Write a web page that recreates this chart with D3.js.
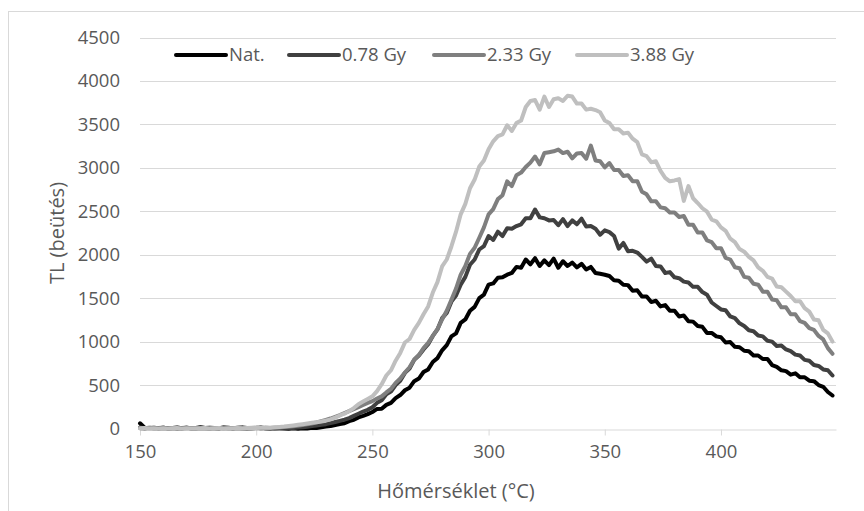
<!DOCTYPE html>
<html>
<head>
<meta charset="utf-8">
<script src="https://cdn.jsdelivr.net/npm/d3@7"></script>
<style>
  body { margin: 0; background: #fff; }
  text { font-family: "Open Sans", sans-serif; fill: #595959; }
</style>
</head>
<body>
<div id="chart"></div>
<script>
// temperatures (°C)
const temps = [
  150,152,154,156,158,160,162,164,166,168,170,172,174,176,178,180,182,184,186,188,
  190,192,194,196,198,200,202,204,206,208,210,212,214,216,218,220,222,224,226,228,
  230,232,234,236,238,240,242,244,246,248,250,252,254,256,258,260,262,264,266,268,
  270,272,274,276,278,280,282,284,286,288,290,292,294,296,298,300,302,304,306,308,
  310,312,314,316,318,320,322,324,326,328,330,332,334,336,338,340,342,344,346,348,
  350,352,354,356,358,360,362,364,366,368,370,372,374,376,378,380,382,384,386,388,
  390,392,394,396,398,400,402,404,406,408,410,412,414,416,418,420,422,424,426,428,
  430,432,434,436,438,440,442,444,446,448
]

const seriesNames = ['Nat.', '0.78 Gy', '2.33 Gy', '3.88 Gy']

const nat = [
  60,8,5,10,3,8,2,6,12,4, 9,3,7,14,5,10,6,3,11,8,
  4,9,13,5,2,7,12,4,1,6, 3,0,-4,2,-2,4,1,8,5,14,
  22,28,40,52,60,85,100,128,145,165,
  190,225,228,272,295,350,385,440,470,545, 575,650,680,765,810,900,960,1060,1095,1215,
  1255,1355,1400,1500,1540,1655,1670,1735,1740,1770, 1790,1860,1850,1945,1890,1960,1870,1935,1880,1955,
  1850,1925,1870,1910,1855,1895,1830,1860,1790,1780,
  1770,1755,1705,1700,1655,1650,1585,1590,1520,1520, 1455,1470,1405,1420,1355,1355,1290,1300,1235,1230,
  1180,1170,1100,1100,1060,1050,990,995,940,935, 895,890,840,840,800,800,730,710,670,660,
  620,635,590,590,550,545,500,480,420,380
]

const gy078 = [
  12,4,8,2,6,10,3,7,1,5, 9,4,2,8,5,1,6,3,9,4,
  2,7,3,0,5,8,2,6,3,1, 4,7,10,6,12,15,20,28,35,42,
  50,62,75,88,102,120,145,170,195,215,
  245,295,325,395,425,500,550,640,690,790, 840,910,970,1065,1140,1270,1330,1460,1530,1655,
  1745,1885,1945,2060,2100,2215,2170,2265,2215,2305, 2300,2330,2350,2420,2420,2520,2430,2420,2395,2400,
  2340,2410,2330,2395,2350,2415,2325,2330,2300,2230,
  2280,2260,2215,2070,2135,2040,2045,2025,1975,1920, 1955,1870,1865,1790,1800,1740,1730,1690,1680,1630,
  1630,1570,1540,1450,1410,1370,1360,1290,1270,1210, 1180,1130,1120,1070,1060,1010,1000,950,955,910,
  890,850,840,790,780,730,720,680,670,610
]

const gy233 = [
  3,0,5,2,0,4,1,6,2,0, 3,5,1,4,0,2,6,3,1,4,
  2,5,0,3,6,2,4,8,5,10, 12,16,20,26,32,40,48,58,70,84,
  98,115,135,155,178,200,222,245,270,295,
  315,345,370,415,455,525,575,645,705,795, 845,925,985,1065,1145,1255,1355,1480,1610,1770,
  1870,2010,2080,2195,2315,2465,2525,2640,2685,2845, 2790,2915,2945,3010,3060,3130,3040,3170,3180,3190,
  3210,3170,3185,3110,3165,3170,3105,3255,3085,3075,
  3005,3055,2975,2975,2905,2915,2845,2845,2725,2695, 2615,2615,2545,2535,2485,2485,2435,2445,2345,2345,
  2255,2255,2165,2145,2075,2075,1965,1945,1855,1845, 1745,1735,1665,1655,1575,1575,1485,1475,1395,1395,
  1315,1315,1235,1215,1155,1135,1065,1025,925,860
]

const gy388 = [
  2,5,0,3,1,4,0,2,5,1, 3,0,4,2,6,1,3,5,0,2,
  4,7,3,6,9,5,8,12,10,14, 18,22,28,35,42,50,58,65,72,80,
  90,105,125,150,170,200,235,280,310,340,
  370,430,510,610,670,780,870,990,1030,1135, 1215,1315,1405,1565,1685,1865,1945,2095,2265,2465,
  2585,2765,2865,3015,3085,3215,3305,3365,3385,3490, 3425,3515,3545,3700,3770,3780,3670,3820,3700,3790,
  3800,3770,3830,3820,3740,3740,3670,3680,3665,3640,
  3545,3515,3445,3445,3395,3405,3335,3295,3155,3135, 3065,3075,2965,2885,2845,2855,2870,2620,2790,2650,
  2595,2535,2495,2405,2385,2315,2275,2185,2145,2065, 2035,1975,1935,1855,1815,1745,1725,1635,1625,1575,
  1525,1465,1465,1385,1345,1255,1245,1135,1095,1000
]

const xTicks = [150, 200, 250, 300, 350, 400]
const yTicks = [0, 500, 1000, 1500, 2000, 2500, 3000, 3500, 4000, 4500]

const allSeries = [nat, gy078, gy233, gy388]
const colors = ['#000000', '#404040', '#7f7f7f', '#bfbfbf']

const W = 864, H = 511
const plotLeft = 140, plotRight = 836, plotTop = 37.5, plotBottom = 428.5

const svg = d3.select('#chart').append('svg')
  .attr('width', W)
  .attr('height', H)

// chart border
svg.append('rect')
  .attr('x', 8.5).attr('y', 11.5)
  .attr('width', 900).attr('height', 560)
  .attr('fill', 'none')
  .attr('stroke', '#d9d9d9')

const x = d3.scaleLinear().domain([150, 449.5]).range([plotLeft, plotRight])
const y = d3.scaleLinear().domain([0, 4500]).range([plotBottom, plotTop])

// horizontal gridlines
svg.append('g')
  .selectAll('line')
  .data(yTicks.slice(1))
  .enter().append('line')
  .attr('x1', plotLeft).attr('x2', plotRight)
  .attr('y1', d => Math.round(y(d)) + 0.5)
  .attr('y2', d => Math.round(y(d)) + 0.5)
  .attr('stroke', '#d9d9d9')

// y tick labels
svg.append('g')
  .selectAll('text')
  .data(yTicks)
  .enter().append('text')
  .attr('x', 120)
  .attr('y', d => y(d))
  .attr('dy', '0.35em')
  .attr('text-anchor', 'end')
  .style('font-size', '18.5px')
  .text(d => d)

// x axis
const xAxis = d3.axisBottom(x)
  .tickValues(xTicks)
  .tickSize(6)
  .tickSizeOuter(0)
  .tickPadding(9)

const gx = svg.append('g')
  .attr('transform', 'translate(0,' + (Math.round(plotBottom) + 0.5) + ')')
  .call(xAxis)
gx.select('.domain').attr('stroke', '#d9d9d9')
gx.selectAll('.tick line').attr('stroke', '#d9d9d9')
gx.selectAll('.tick text')
  .style('font-size', '18.5px')
  .style('font-family', '"Open Sans", sans-serif')
  .attr('fill', '#595959')

// axis titles
svg.append('text')
  .attr('x', 456).attr('y', 498)
  .attr('text-anchor', 'middle')
  .style('font-size', '20px')
  .text('Hőmérséklet (°C)')

svg.append('text')
  .attr('transform', 'translate(64,233) rotate(-90)')
  .attr('text-anchor', 'middle')
  .style('font-size', '20px')
  .text('TL (beütés)')

// curves
const line = d3.line()
  .x((d, i) => x(temps[i]))
  .y(d => y(d))

svg.append('g')
  .selectAll('path')
  .data(allSeries)
  .enter().append('path')
  .attr('d', line)
  .attr('fill', 'none')
  .attr('stroke', (d, i) => colors[i])
  .attr('stroke-width', 4)
  .attr('stroke-linejoin', 'round')
  .attr('stroke-linecap', 'round')

// legend
const legendX = [176, 289, 434, 577]
const legend = svg.append('g')
  .selectAll('g')
  .data(seriesNames)
  .enter().append('g')
  .attr('transform', (d, i) => 'translate(' + legendX[i] + ',55)')

legend.append('line')
  .attr('x1', 0).attr('x2', 50)
  .attr('stroke', (d, i) => colors[i])
  .attr('stroke-width', 4)
  .attr('stroke-linecap', 'round')

legend.append('text')
  .attr('x', 53)
  .attr('dy', '0.35em')
  .style('font-size', '18.5px')
  .attr('fill', '#404040')
  .text(d => d)
</script>
</body>
</html>
